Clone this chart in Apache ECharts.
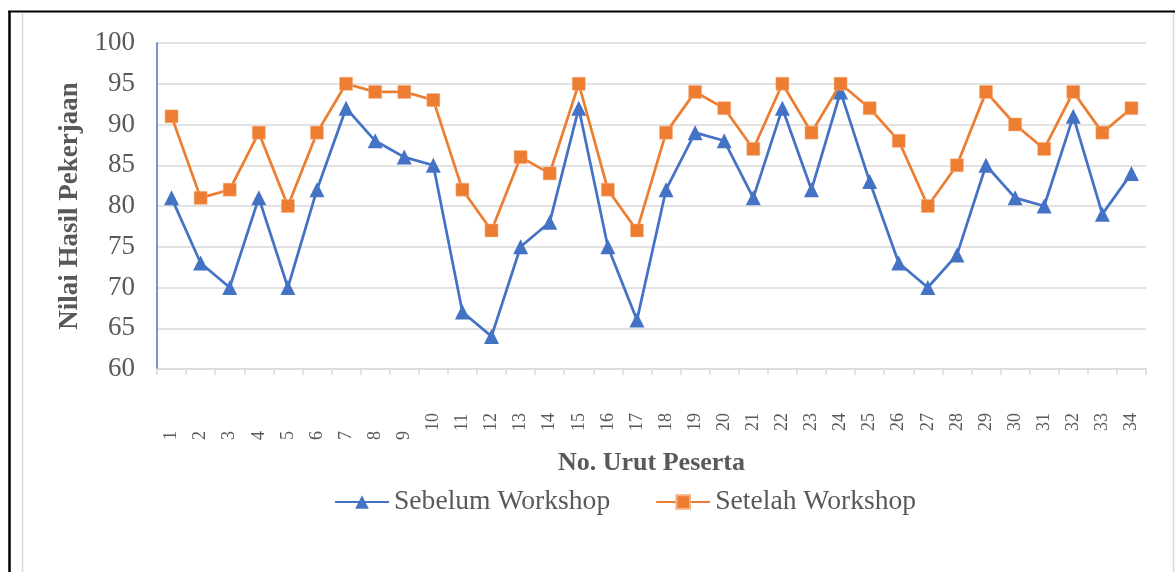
<!DOCTYPE html>
<html>
<head>
<meta charset="utf-8">
<script src="https://cdn.jsdelivr.net/npm/echarts@6/dist/echarts.min.js"></script>
<style>
html,body{margin:0;padding:0;background:#fff;}
#chart{width:1175px;height:572px;}
</style>
</head>
<body>
<div id="chart"></div>
<script>
const categories = ['1','2','3','4','5','6','7','8','9','10','11','12','13','14','15','16','17','18','19','20','21','22','23','24','25','26','27','28','29','30','31','32','33','34'];
const sebelum = [81,73,70,81,70,82,92,88,86,85,67,64,75,78,92,75,66,82,89,88,81,92,82,94,83,73,70,74,85,81,80,91,79,84];
const setelah = [91,81,82,89,80,89,95,94,94,93,82,77,86,84,95,82,77,89,94,92,87,95,89,95,92,88,80,85,94,90,87,94,89,92];
const seriesNames = ['Sebelum Workshop','Setelah Workshop'];
const yTitle = 'Nilai Hasil Pekerjaan';
const xTitle = 'No. Urut Peserta';

const FONT = "'Liberation Serif','Times New Roman',serif";
const chart = echarts.init(document.getElementById('chart'), null, {renderer:'canvas'});
chart.setOption({
  animation:false,
  backgroundColor:'#fff',
  grid:{left:157, right:29, top:43, bottom:203},
  graphic:[
    {type:'line', shape:{x1:22.5,y1:12.5,x2:22.5,y2:572}, style:{stroke:'#D9D9D9',lineWidth:1.5}},
    {type:'line', shape:{x1:1173.5,y1:12.5,x2:1173.5,y2:572}, style:{stroke:'#D9D9D9',lineWidth:1.5}},
    {type:'line', shape:{x1:8,y1:11.5,x2:1175,y2:11.5}, style:{stroke:'#000',lineWidth:2}},
    {type:'line', shape:{x1:9.5,y1:11,x2:9.5,y2:572}, style:{stroke:'#000',lineWidth:2.5}}
  ],
  legend:{
    data:seriesNames,
    left:329, top:483,
    itemWidth:54, itemHeight:17, itemGap:45,
    textStyle:{fontFamily:FONT, fontSize:27.6, color:'#595959'}
  },
  xAxis:{
    type:'category', data:categories, boundaryGap:true,
    name:xTitle, nameLocation:'middle', nameGap:81,
    nameTextStyle:{fontFamily:FONT, fontSize:26, fontWeight:'bold', color:'#595959'},
    axisLine:{lineStyle:{color:'#D9D9D9', width:1.5}},
    axisTick:{show:true, length:6, lineStyle:{color:'#D9D9D9', width:1.5}},
    axisLabel:{
      rotate:90, align:'left', verticalAlign:'middle', margin:71, interval:0,
      fontFamily:FONT, fontSize:18, color:'#595959',
      formatter:function(v){ return v.length > 1 ? '  ' + v : v; }
    }
  },
  yAxis:{
    type:'value', min:60, max:100, interval:5,
    name:yTitle, nameLocation:'middle', nameGap:67,
    nameTextStyle:{fontFamily:FONT, fontSize:27, fontWeight:'bold', color:'#595959'},
    axisLine:{show:true, lineStyle:{color:'#4472C4', width:1.5}},
    axisTick:{show:false},
    axisLabel:{fontFamily:FONT, fontSize:27, color:'#595959', margin:22},
    splitLine:{lineStyle:{color:'#D9D9D9', width:1.5}}
  },
  series:[
    {name:seriesNames[0], type:'line', data:sebelum,
     symbol:'triangle', symbolSize:15,
     lineStyle:{color:'#4472C4', width:2.75},
     itemStyle:{color:'#4472C4'}},
    {name:seriesNames[1], type:'line', data:setelah,
     symbol:'rect', symbolSize:13,
     lineStyle:{color:'#ED7D31', width:2.75},
     itemStyle:{color:'#ED7D31', borderColor:'#F4B183', borderWidth:1, borderType:'dotted'}}
  ]
});
</script>
</body>
</html>
